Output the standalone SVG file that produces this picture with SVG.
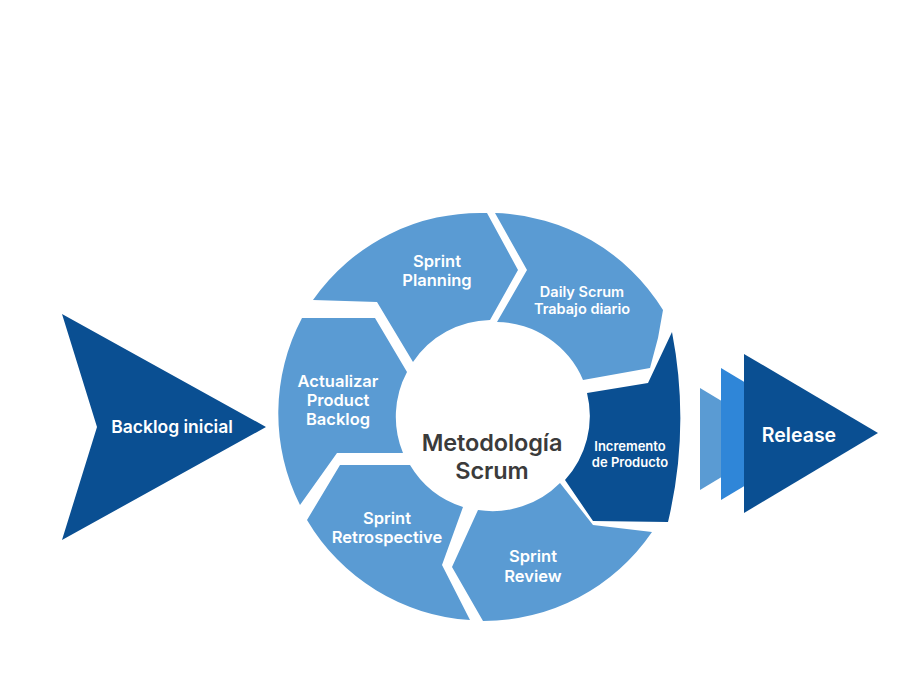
<svg xmlns="http://www.w3.org/2000/svg" width="919" height="700" viewBox="0 0 919 700">
<style>
.light{fill:#5a9bd3}
.dark{fill:#0a4f92}
.mid{fill:#2f86d8}
.t{font-family:Inter,"Open Sans","Liberation Sans",sans-serif;font-weight:600;fill:#ffffff;text-anchor:middle}
.c{font-family:Inter,"Open Sans","Liberation Sans",sans-serif;font-weight:600;fill:#3b3b3b;text-anchor:middle}
</style>
<rect width="919" height="700" fill="#ffffff"/>
<g id="backlog-inicial">
<path class="dark" d="M62,314 L266,427 L62,540 L97,427 Z"/>
<text class="t" x="172" y="433" font-size="17.5">Backlog inicial</text>
</g>
<g id="ciclo">
<g id="sprint-planning">
<path class="light" d="M313,300 A204,204 0 0 1 487,213 L518,270 L490,320 A95,95 0 0 0 413,362 L377,302 Z"/>
<text class="t" font-size="16.5"><tspan x="437" y="267">Sprint</tspan><tspan x="437" y="286">Planning</tspan></text>
</g>
<g id="daily-scrum">
<path class="light" d="M495,213 A204,204 0 0 1 663,310 L658,338 L650,368 L583,380 A95,95 0 0 0 497,322 L527,270 Z"/>
<text class="t" font-size="14.5"><tspan x="582" y="297">Daily Scrum</tspan><tspan x="582" y="314">Trabajo diario</tspan></text>
</g>
<g id="incremento">
<path class="dark" d="M672,332 A450,450 0 0 1 668,522 L593,521 L565,480 A95,95 0 0 0 587,393 L648,383 Z"/>
<text class="t" font-size="13"><tspan x="630" y="451">Incremento</tspan><tspan x="630" y="467">de Producto</tspan></text>
</g>
<g id="sprint-review">
<path class="light" d="M452,567 L478,510 A95,95 0 0 0 560,483 L593,525 L652,532 A204,204 0 0 1 483,621 Z"/>
<text class="t" font-size="16.5"><tspan x="533" y="562">Sprint</tspan><tspan x="533" y="582">Review</tspan></text>
</g>
<g id="sprint-retrospective">
<path class="light" d="M307,520 L340,465 L410,465 A95,95 0 0 0 463,507 L442,565 L470,620 A204,204 0 0 1 307,520 Z"/>
<text class="t" font-size="16.5"><tspan x="387" y="524">Sprint</tspan><tspan x="387" y="543">Retrospective</tspan></text>
</g>
<g id="actualizar">
<path class="light" d="M302,318 L375,318 L407,372 A95,95 0 0 0 403,453 L337,453 L300,505 A204,204 0 0 1 302,318 Z"/>
<text class="t" font-size="16.5"><tspan x="338" y="387">Actualizar</tspan><tspan x="338" y="406">Product</tspan><tspan x="338" y="425">Backlog</tspan></text>
</g>
<g id="metodologia">
<text class="c" font-size="23.5" letter-spacing="-0.1"><tspan x="492" y="451">Metodología</tspan><tspan x="492" y="479">Scrum</tspan></text>
</g>
</g>
<g id="release">
<path class="light" d="M700,388 L785,439 L700,490 Z"/>
<path class="mid" d="M721,368 L831,434 L721,500 Z"/>
<path class="dark" d="M744,354 L878,433 L744,513 Z"/>
<text class="t" x="799" y="442" font-size="19.5">Release</text>
</g>
<g id="connectors"></g>
</svg>
